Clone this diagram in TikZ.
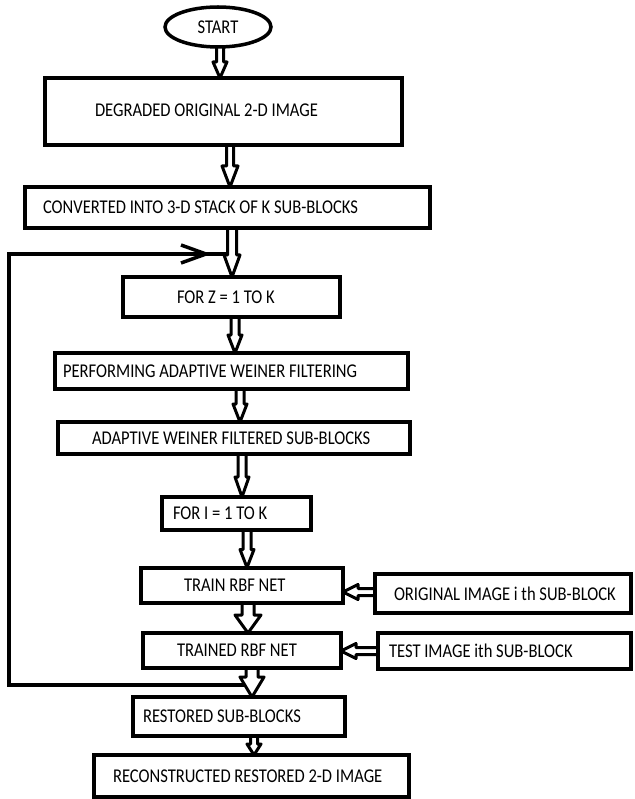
\documentclass[tikz,border=0pt]{standalone}
\usepackage{fontspec}
\setmainfont{Carlito}[FakeStretch=0.85]
\usetikzlibrary{shapes.geometric,calc,backgrounds}
\newcommand\boxfont{\fontsize{19.5}{22}\selectfont}
\newcommand\hdown[6]{%
  \coordinate (hA) at (#1,0 |- #2.south);
  \coordinate (hB) at (#1,0 |- #3.north);
  \draw[harrow] ($(hA)+(-#4,0)$) -- ($(hB)+(-#4,-#6)$) -- ($(hB)+(-#5,-#6)$) -- (hB)
     -- ($(hB)+(#5,-#6)$) -- ($(hB)+(#4,-#6)$) -- ($(hA)+(#4,0)$);
}
\newcommand\hleft[6]{%
  \coordinate (hA) at (#2.west |- 0,#1);
  \coordinate (hB) at (#3.east |- 0,#1);
  \draw[harrow] ($(hA)+(0,-#4)$) -- ($(hB)+(#6,-#4)$) -- ($(hB)+(#6,-#5)$) -- (hB)
     -- ($(hB)+(#6,#5)$) -- ($(hB)+(#6,#4)$) -- ($(hA)+(0,#4)$);
}
\begin{document}
\begin{tikzpicture}[x=1pt,y=-1pt,
  box/.style={draw, line width=4pt, rectangle, outer sep=0pt, inner ysep=0pt, anchor=center, font=\boxfont},
  harrow/.style={draw, fill=white, line width=3pt, line join=round},
  loopline/.style={draw, line width=3.5pt}]
\useasboundingbox (0,0) rectangle (634,799);
\node[draw, ellipse, line width=3.5pt, outer sep=0pt, minimum width=106pt, minimum height=40pt, inner sep=0pt, font=\boxfont] (start) at (218,27) {START};
\node[box, minimum width=357pt, minimum height=67pt, inner xsep=50pt] (b1) at (223.5,111.5) {\raisebox{2.5pt}{\makebox[257pt][l]{DEGRADED ORIGINAL 2-D IMAGE}}};
\node[box, minimum width=405pt, minimum height=41pt, inner xsep=18pt] (b2) at (227.5,207.5) {\makebox[369pt][l]{CONVERTED INTO 3-D STACK OF K SUB-BLOCKS}};
\node[box, minimum width=217pt, minimum height=40pt, inner xsep=54pt] (b3) at (231.5,297) {\makebox[109pt][l]{FOR Z = 1 TO K}};
\node[box, minimum width=353pt, minimum height=36pt, inner xsep=8pt] (b4) at (231.5,371) {\makebox[337pt][l]{PERFORMING ADAPTIVE WEINER FILTERING}};
\node[box, minimum width=352pt, minimum height=32pt, inner xsep=34pt] (b5) at (234,438) {\makebox[284pt][l]{ADAPTIVE WEINER FILTERED SUB-BLOCKS}};
\node[box, minimum width=149pt, minimum height=33pt, inner xsep=11pt] (b6) at (236.5,513.5) {\makebox[127pt][l]{FOR I = 1 TO K}};
\node[box, minimum width=202pt, minimum height=35pt, inner xsep=43pt] (b7) at (242,585) {\makebox[116pt][l]{TRAIN RBF NET}};
\node[box, minimum width=256pt, minimum height=39pt, inner xsep=19pt] (bo) at (503,593.5) {\makebox[218pt][l]{ORIGINAL IMAGE i th SUB-BLOCK}};
\node[box, minimum width=198pt, minimum height=35pt, inner xsep=34pt] (b8) at (242,650.5) {\makebox[130pt][l]{TRAINED RBF NET}};
\node[box, minimum width=253pt, minimum height=36pt, inner xsep=11pt] (bt) at (504.5,651) {\makebox[231pt][l]{TEST IMAGE ith SUB-BLOCK}};
\node[box, minimum width=212pt, minimum height=39pt, inner xsep=10pt] (b9) at (239,716.5) {\makebox[192pt][l]{RESTORED SUB-BLOCKS}};
\node[box, minimum width=315pt, minimum height=42pt, inner xsep=19pt] (b10) at (251.5,776) {\makebox[277pt][l]{RECONSTRUCTED RESTORED 2-D IMAGE}};
\begin{pgfonlayer}{background}
  \coordinate (lb) at (250,685);
  \coordinate (lt) at (232,254);
  \coordinate (chev) at (206,254);
  \draw[loopline] (lb) -| (9,254) -- (lt);
  \draw[loopline] (chev) ++(-25,-9) -- (chev) -- ++(-25,9);
  \hdown{220}{start}{b1}{3.5}{7}{16}
  \hdown{230}{b1}{b2}{3.5}{8}{21}
  \hdown{232}{b2}{b3}{4.5}{8}{22}
  \hdown{235}{b3}{b4}{4}{7}{18}
  \hdown{240}{b4}{b5}{4}{7}{18}
  \hdown{242}{b5}{b6}{4}{7}{20}
  \hdown{247}{b6}{b7}{4}{7}{18}
  \hdown{248}{b7}{b8}{6}{13}{18}
  \hdown{252}{b8}{b9}{6}{12}{20}
  \hdown{254}{b9}{b10}{3.5}{7}{11}
  \hleft{592}{bo}{b7}{3.5}{7.5}{15}
  \hleft{651}{bt}{b8}{3.5}{7.5}{15}
\end{pgfonlayer}
\end{tikzpicture}
\end{document}
